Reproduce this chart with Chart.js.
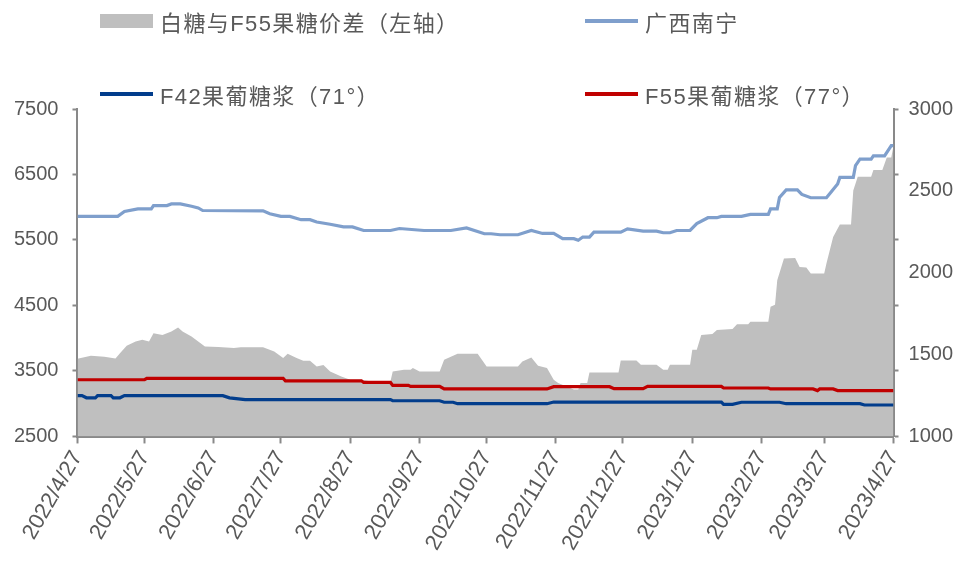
<!DOCTYPE html>
<html>
<head>
<meta charset="utf-8">
<script src="https://cdn.jsdelivr.net/npm/chart.js@4.4.1/dist/chart.umd.min.js"></script>
<style>
  body { margin: 0; background: #fff; }
  #wrap { position: relative; width: 963px; height: 562px; }
  .lg { position: absolute; display: flex; align-items: center; font: 22px "Liberation Sans", "Noto Sans CJK SC", sans-serif; letter-spacing: 1.4px; color: #595959; white-space: nowrap; }
  .lg i { display: inline-block; width: 53px; margin-right: 7px; }
</style>
</head>
<body>
<div id="wrap">
  <canvas id="chart" width="963" height="562"></canvas>
</div>
<script>
// x轴刻度（每月27日）
const tickLabels = ['2022/4/27', '2022/5/27', '2022/6/27', '2022/7/27', '2022/8/27', '2022/9/27',
  '2022/10/27', '2022/11/27', '2022/12/27', '2023/1/27', '2023/2/27', '2023/3/27', '2023/4/27'];

// 各系列：[距2022/4/27的天数, 值]
const spread = [[0,3686],[6,3731],[12,3716],[17,3690],[19,3772],[22,3883],[26,3949],[29,3975],[32,3949],[34,4076],[38,4050],[42,4101],[45,4162],[47,4101],[51,4025],[54,3949],[57,3874],[63,3864],[70,3850],[73,3863],[83,3863],[88,3797],[92,3696],[94,3762],[98,3696],[101,3655],[104,3655],[107,3569],[110,3590],[113,3493],[118,3417],[122,3366],[127,3366],[131,3341],[140,3341],[141,3493],[146,3519],[149,3519],[150,3544],[153,3493],[162,3493],[164,3670],[170,3762],[179,3762],[183,3569],[197,3569],[199,3645],[203,3706],[206,3580],[210,3544],[213,3366],[215,3316],[222,3215],[224,3215],[225,3316],[228,3316],[229,3478],[242,3478],[243,3660],[250,3660],[252,3595],[259,3595],[262,3519],[264,3519],[265,3595],[274,3595],[275,3822],[277,3822],[279,4050],[284,4066],[286,4126],[293,4142],[295,4213],[300,4213],[301,4253],[309,4253],[310,4481],[312,4510],[313,4886],[316,5216],[321,5226],[323,5088],[326,5080],[328,4987],[334,4987],[335,5140],[338,5545],[341,5738],[346,5738],[347,6255],[349,6467],[355,6467],[356,6569],[360,6569],[362,6760],[364,6760],[365,6940]];

const nanning = [[0,5860],[18,5860],[21,5935],[27,5975],[33,5975],[34,6025],[40,6025],[42,6050],[46,6050],[51,6015],[54,5990],[56,5950],[83,5945],[86,5900],[91,5860],[95,5860],[100,5810],[104,5810],[107,5775],[113,5740],[119,5700],[123,5700],[128,5645],[140,5645],[144,5675],[155,5645],[167,5645],[174,5685],[182,5595],[185,5595],[189,5580],[197,5580],[203,5645],[208,5600],[213,5600],[217,5520],[222,5520],[224,5495],[226,5545],[229,5545],[231,5620],[243,5620],[246,5670],[253,5635],[259,5635],[262,5610],[265,5610],[268,5645],[274,5645],[277,5750],[282,5840],[286,5840],[288,5860],[297,5860],[301,5890],[309,5890],[310,5975],[313,5975],[314,6150],[317,6265],[322,6265],[324,6195],[328,6145],[335,6145],[337,6230],[340,6355],[341,6455],[347,6455],[348,6635],[350,6735],[355,6735],[356,6785],[361,6785],[364,6940],[365,6940]];

const f42 = [[0,3123],[2,3123],[4,3090],[8,3090],[9,3123],[15,3123],[16,3090],[19,3090],[21,3123],[65,3123],[68,3090],[75,3062],[140,3062],[141,3045],[162,3045],[164,3022],[168,3022],[170,3000],[210,3000],[213,3025],[288,3025],[289,2990],[293,2990],[297,3022],[314,3022],[317,3000],[350,3000],[352,2980],[365,2980]];

const f55 = [[0,3366],[30,3366],[31,3386],[92,3386],[93,3350],[127,3350],[128,3325],[140,3325],[141,3280],[148,3280],[149,3265],[162,3265],[164,3225],[210,3225],[213,3260],[238,3260],[240,3230],[253,3230],[255,3265],[288,3265],[289,3240],[309,3240],[310,3225],[329,3225],[331,3200],[332,3225],[338,3225],[340,3200],[365,3200]];

const START = Date.UTC(2022, 3, 27);
const tickDays = tickLabels.map(s => {
  const [y, m, d] = s.split('/').map(Number);
  return Math.round((Date.UTC(y, m - 1, d) - START) / 86400000);
});
const toXY = arr => arr.map(([x, y]) => ({ x, y }));

const GRAY_TEXT = '#595959';
const AXIS = '#898989';
const FAMILY = '"Liberation Sans", "Noto Sans CJK SC", sans-serif';
const FONT = { family: FAMILY, size: 20 };

// 图例（两行两列）
const legendItems = [
  { label: '白糖与F55果糖价差（左轴）', color: '#bfbfbf', box: true, left: 100, top: 22 },
  { label: '广西南宁', color: '#7f9fcc', left: 585, top: 22 },
  { label: 'F42果葡糖浆（71°）', color: '#023d8c', left: 100, top: 95 },
  { label: 'F55果葡糖浆（77°）', color: '#c00000', left: 585, top: 95 }
];
const wrap = document.getElementById('wrap');
legendItems.forEach(it => {
  const d = document.createElement('div');
  d.className = 'lg';
  d.style.left = it.left + 'px';
  d.style.top = (it.top - 17) + 'px';
  const sw = document.createElement('i');
  sw.style.height = it.box ? '14px' : '4px';
  sw.style.background = it.color;
  d.appendChild(sw);
  d.appendChild(document.createTextNode(it.label));
  wrap.appendChild(d);
});

const ctx = document.getElementById('chart').getContext('2d');
new Chart(ctx, {
  type: 'line',
  data: {
    datasets: [
      { label: legendItems[1].label, data: toXY(nanning), borderColor: '#7f9fcc', borderWidth: 3.2, pointRadius: 0, yAxisID: 'y', order: 1 },
      { label: legendItems[2].label, data: toXY(f42), borderColor: '#023d8c', borderWidth: 3.2, pointRadius: 0, yAxisID: 'y', order: 2 },
      { label: legendItems[3].label, data: toXY(f55), borderColor: '#c00000', borderWidth: 3.2, pointRadius: 0, yAxisID: 'y', order: 3 },
      { label: legendItems[0].label, data: toXY(spread), borderWidth: 0, backgroundColor: '#bfbfbf', fill: 'start', pointRadius: 0, yAxisID: 'y', order: 10 }
    ]
  },
  options: {
    responsive: false,
    animation: false,
    layout: { padding: { top: 109, left: 0, right: 0, bottom: 4 } },
    plugins: { legend: { display: false }, tooltip: { enabled: false } },
    scales: {
      x: {
        type: 'linear', min: 0, max: 365,
        afterBuildTicks: s => { s.ticks = tickDays.map(v => ({ value: v })); },
        // 斜放的标签不额外占左右空间
        afterFit: s => { s.paddingLeft = 0; s.paddingRight = 0; },
        border: { color: AXIS, width: 3 },
        grid: { drawOnChartArea: false, tickLength: 7, tickColor: AXIS, tickWidth: 2 },
        ticks: {
          autoSkip: false, minRotation: 60, maxRotation: 60, color: GRAY_TEXT, font: { family: FAMILY, size: 22 }, padding: 3,
          callback: (v, i) => tickLabels[i]
        }
      },
      y: {
        position: 'left', min: 2500, max: 7500,
        border: { color: AXIS, width: 2 },
        grid: { drawOnChartArea: false, tickLength: 5, tickColor: AXIS, tickWidth: 2 },
        ticks: { stepSize: 1000, color: GRAY_TEXT, font: FONT, padding: 14, callback: v => String(v) }
      },
      y2: {
        position: 'right', min: 1000, max: 3000,
        afterBuildTicks: s => {
          s.ticks = [1000, 1400, 1500, 1800, 2000, 2200, 2500, 2600, 3000].map(v => ({ value: v }));
        },
        border: { color: AXIS, width: 2 },
        grid: {
          drawOnChartArea: false, tickLength: 5, tickWidth: 2,
          tickColor: c => ((c.tick.value - 1000) % 400 === 0 ? AXIS : 'rgba(0,0,0,0)')
        },
        ticks: {
          autoSkip: false, color: GRAY_TEXT, font: FONT, padding: 10,
          callback: v => (v % 500 === 0 ? String(v) : '')
        }
      }
    }
  }
});
</script>
</body>
</html>
